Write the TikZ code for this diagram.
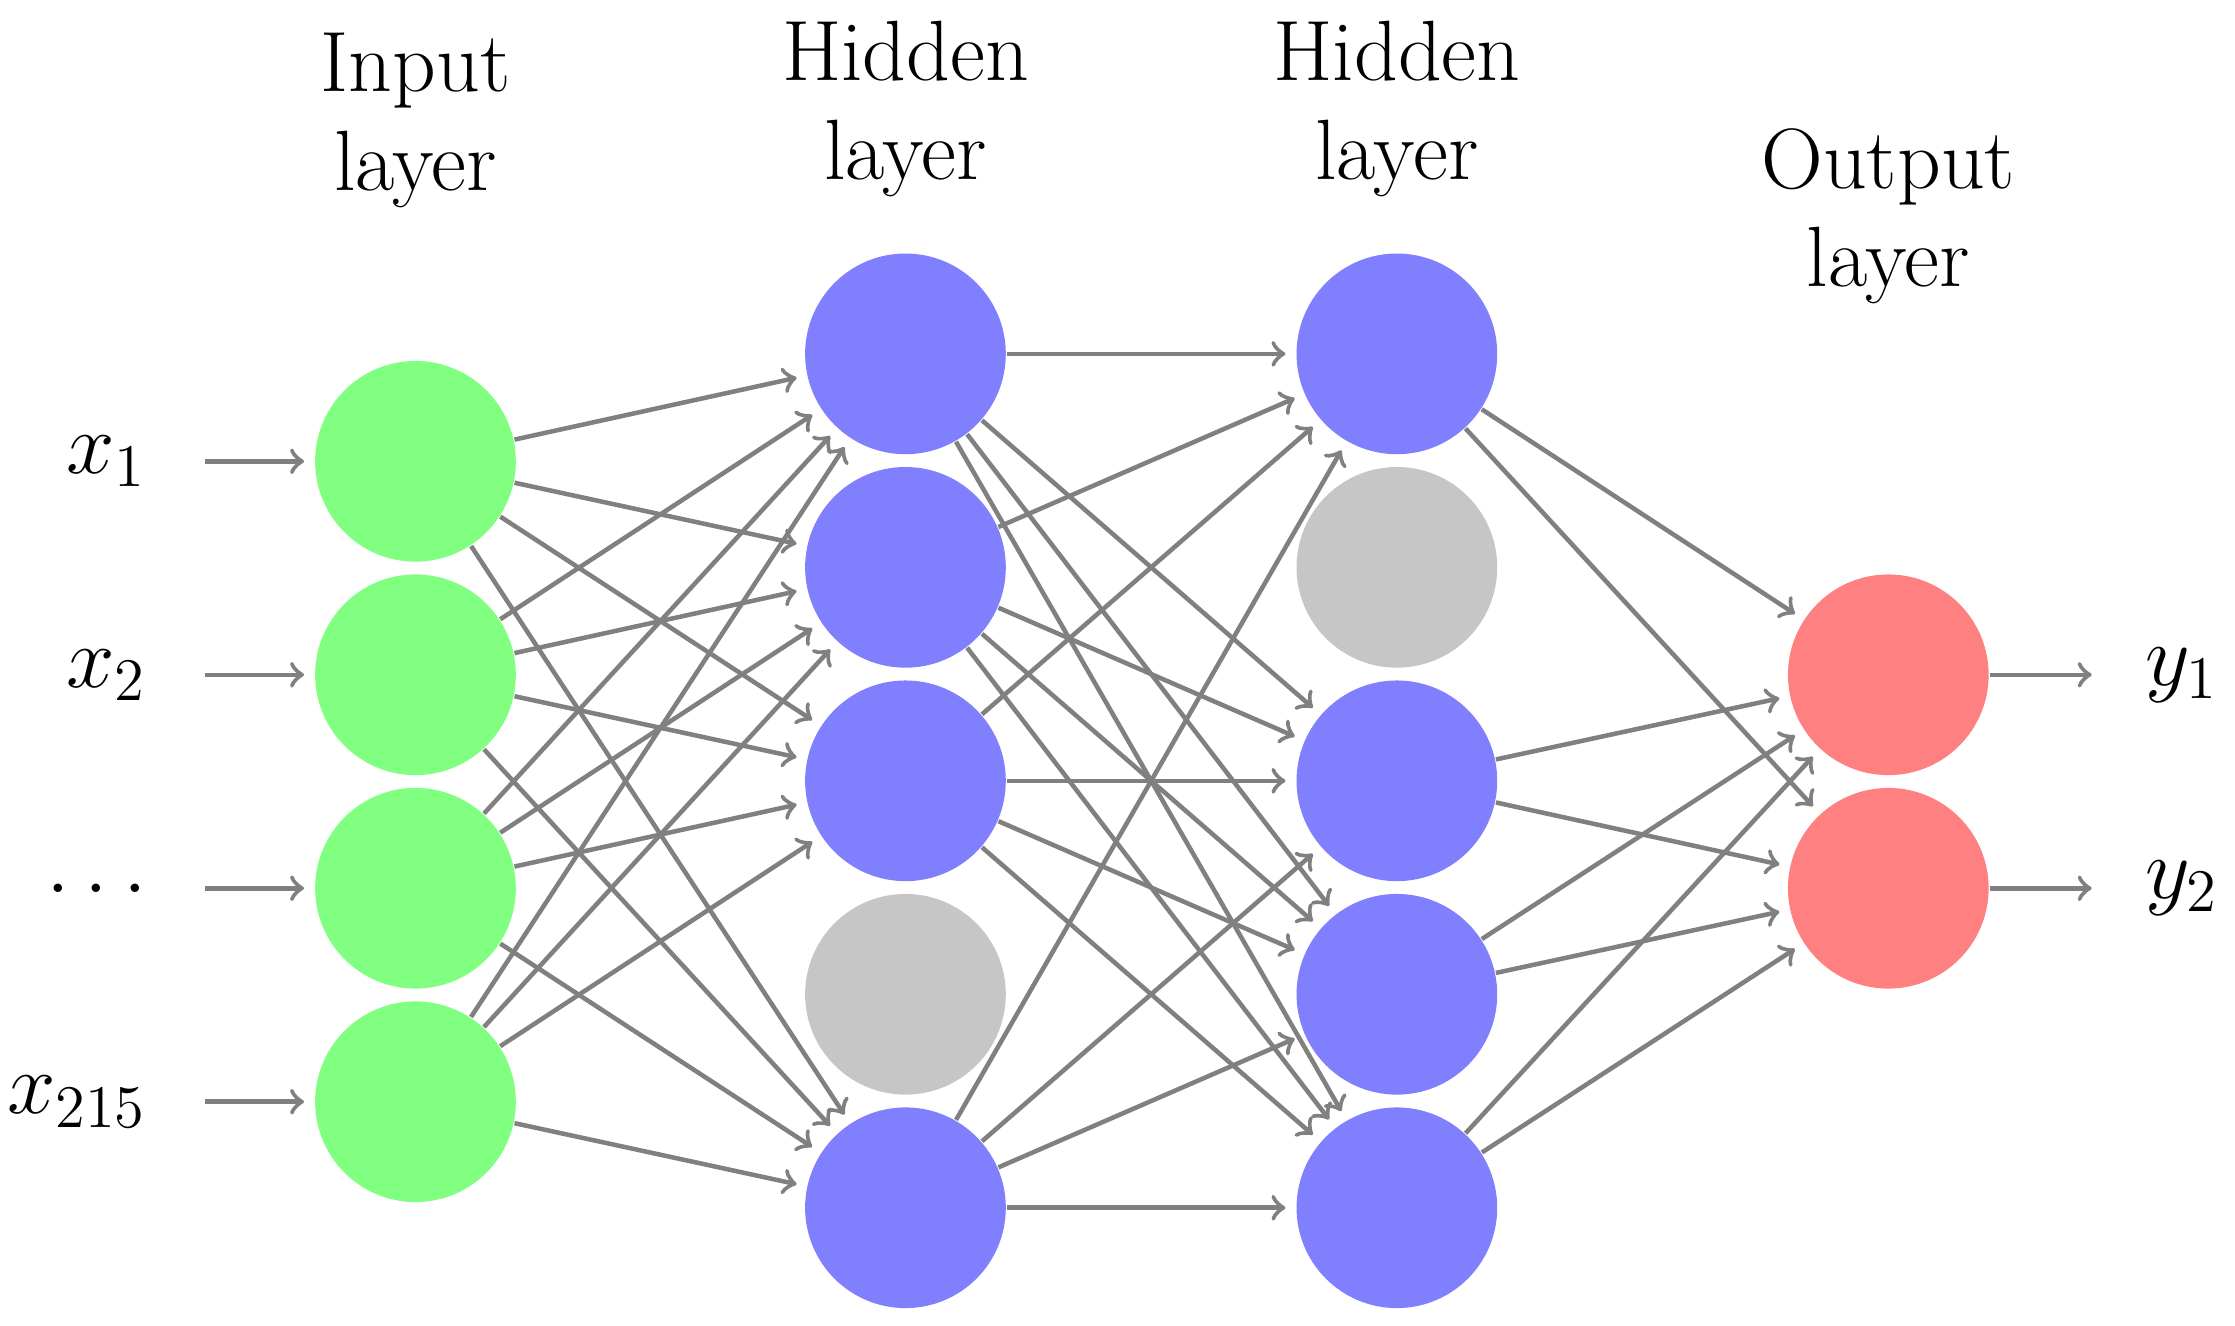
\documentclass[tikz,border=0pt]{standalone}
\begin{document}
\begin{tikzpicture}[x=0.01cm,y=-0.01cm,
  neuron/.style={circle,minimum size=1.4cm,inner sep=0pt},
  inp/.style={neuron,fill={rgb,255:red,128;green,255;blue,128}},
  hid/.style={neuron,fill={rgb,255:red,128;green,128;blue,255}},
  drop/.style={neuron,fill={rgb,255:red,198;green,198;blue,198}},
  outp/.style={neuron,fill={rgb,255:red,255;green,128;blue,128}},
  conn/.style={->,draw={rgb,255:red,128;green,128;blue,128},line width=0.9pt,shorten >=2pt},
  lbl/.style={font=\fontsize{17}{19.5}\selectfont,align=center},
  ]
\useasboundingbox (0,0) rectangle (1560,925);
% input
\foreach \i/\y in {1/322,2/471,3/620,4/769} \node[inp] (i\i) at (290,\y) {};
% hidden 1
\node[hid] (a1) at (632,247) {};
\node[hid] (a2) at (632,396) {};
\node[hid] (a3) at (632,545) {};
\node[drop] (a4) at (632,694) {};
\node[hid] (a5) at (632,843) {};
% hidden 2
\node[hid] (b1) at (975,247) {};
\node[drop] (b2) at (975,396) {};
\node[hid] (b3) at (975,545) {};
\node[hid] (b4) at (975,694) {};
\node[hid] (b5) at (975,843) {};
% output
\node[outp] (o1) at (1318,471) {};
\node[outp] (o2) at (1318,620) {};
% labels
\node[lbl,anchor=east] (x1) at (115,322) {$x_1$};
\node[lbl,anchor=east] (x2) at (115,471) {$x_2$};
\node[lbl,anchor=east] (x3) at (115,620) {$\dots$};
\node[lbl,anchor=east] (x4) at (115,769) {$x_{215}$};
\node[lbl,anchor=west] (y1) at (1485,471) {$y_1$};
\node[lbl,anchor=west] (y2) at (1485,620) {$y_2$};
\foreach \k in {1,...,4} {\coordinate (s\k) at (143,{322+149*(\k-1)});}
\coordinate (e1) at (1467,471); \coordinate (e2) at (1467,620);
\foreach \k in {1,...,4} \draw[conn] (s\k) -- (i\k);
\draw[conn] (o1) -- (e1); \draw[conn] (o2) -- (e2);
% titles
\node[lbl] (t1) at (290,84) {Input\\layer};
\node[lbl] (t2) at (632,76) {Hidden\\layer};
\node[lbl] (t3) at (975,76) {Hidden\\layer};
\node[lbl] (t4) at (1318,151) {Output\\layer};
% connections
\foreach \i in {1,...,4} \foreach \j in {1,2,3,5} \draw[conn] (i\i) -- (a\j);
\foreach \i in {1,2,3,5} \foreach \j in {1,3,4,5} \draw[conn] (a\i) -- (b\j);
\foreach \i in {1,3,4,5} \foreach \j in {1,2} \draw[conn] (b\i) -- (o\j);
\end{tikzpicture}
\end{document}
